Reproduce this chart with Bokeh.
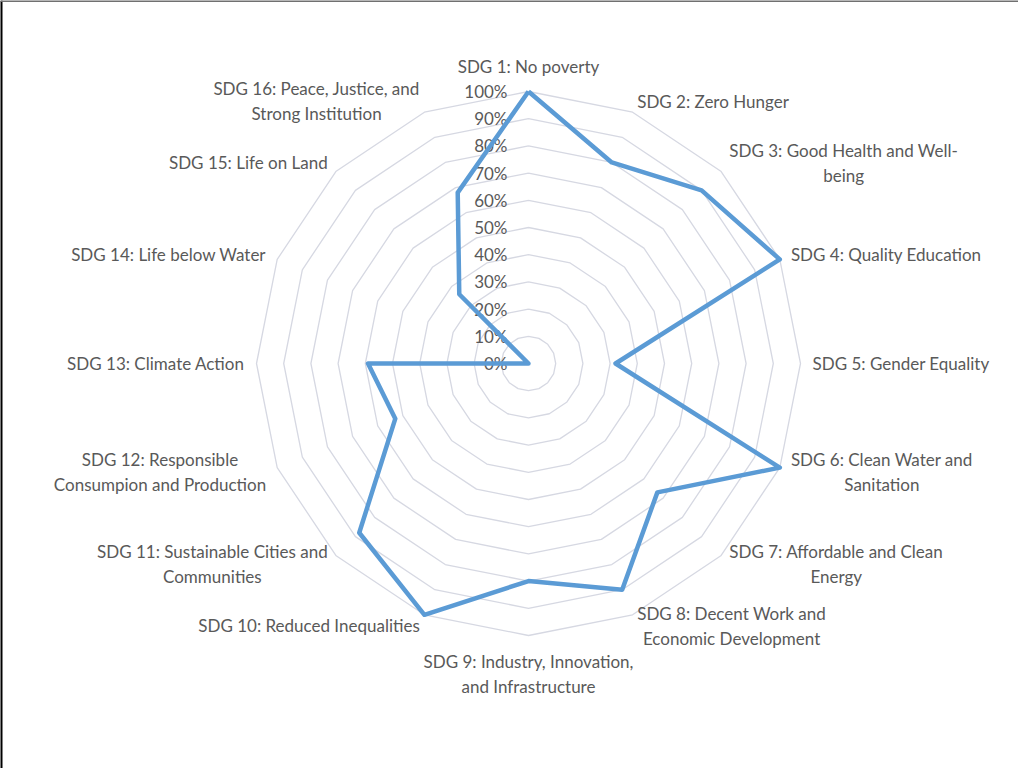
import math
from bokeh.plotting import figure
from bokeh.models import Range1d, Span, ColumnDataSource
from bokeh.core.properties import value
from bokeh.embed import file_html
from bokeh.resources import INLINE

categories = [
    "SDG 1: No poverty",
    "SDG 2: Zero Hunger",
    "SDG 3: Good Health and Well-\nbeing",
    "SDG 4: Quality Education",
    "SDG 5: Gender Equality",
    "SDG 6: Clean Water and\nSanitation",
    "SDG 7: Affordable and Clean\nEnergy",
    "SDG 8: Decent Work and\nEconomic Development",
    "SDG 9: Industry, Innovation,\nand Infrastructure",
    "SDG 10: Reduced Inequalities",
    "SDG 11: Sustainable Cities and\nCommunities",
    "SDG 12: Responsible\nConsumpion and Production",
    "SDG 13: Climate Action",
    "SDG 14: Life below Water",
    "SDG 15: Life on Land",
    "SDG 16: Peace, Justice, and\nStrong Institution",
]
values = [100, 80, 90, 100, 32, 100, 67, 90, 80, 100, 88, 53, 59, 0, 36, 68]
tick_values = [0, 10, 20, 30, 40, 50, 60, 70, 80, 90, 100]
tick_labels = ["0%", "10%", "20%", "30%", "40%", "50%", "60%", "70%", "80%", "90%", "100%"]

PX = 2.72  # pixels per percent unit
W, H = 1018, 768
cx_page, cy_page = 536, 371
x0 = (8 - cx_page) / PX
x1 = (8 + W - cx_page) / PX
y1 = (cy_page - 8) / PX
y0 = (cy_page - 8 - H) / PX

p = figure(width=W, height=H, x_range=Range1d(x0, x1), y_range=Range1d(y0, y1),
           output_backend="svg", toolbar_location=None, min_border=0,
           background_fill_color="white", border_fill_color="white")
p.axis.visible = False
p.grid.visible = False
p.outline_line_color = None

n = len(categories)
angles = [2 * math.pi * i / n for i in range(n)]

# frame lines
p.add_layout(Span(location=x0 + 0.5 / PX, dimension="height", line_color="black", line_width=3))
p.add_layout(Span(location=y1 - 0.5 / PX, dimension="width", line_color="#707070", line_width=2))

# rings
ring_xs, ring_ys = [], []
for t in tick_values[1:]:
    ring_xs.append([t * math.sin(a) for a in angles] + [0])
    ring_ys.append([t * math.cos(a) for a in angles] + [t])
p.multi_line(ring_xs, ring_ys, line_color="#d6d8e2", line_width=1.3)

# tick labels
p.text(x=[-21 / PX] * len(tick_values), y=tick_values, text=tick_labels,
       text_align="right", text_baseline="middle", text_color="#595959",
       text_font=value("Lato"), text_font_size="17px")

# data line
xs = [v * math.sin(a) for v, a in zip(values, angles)]
ys = [v * math.cos(a) for v, a in zip(values, angles)]
p.line(xs + [xs[0]], ys + [ys[0]], line_color="#5b9bd5", line_width=4.5, line_join="round")

# category labels
lx, ly, anchors = [], [], []
for a in angles:
    deg = round(math.degrees(a), 3)
    if deg in (0, 180):
        LR = 287 / PX
    else:
        LR = 284 / PX
    lx.append(LR * math.sin(a))
    ly.append(LR * math.cos(a))
    if deg == 0:
        anchors.append("bottom_center")
    elif deg == 180:
        anchors.append("top_center")
    elif deg < 180:
        anchors.append("center_left")
    else:
        anchors.append("center_right")
src = ColumnDataSource(dict(x=lx, y=ly, text=categories, anchor=anchors))
p.text(x="x", y="y", text="text", anchor="anchor", source=src,
       text_align="center", text_baseline="middle", text_line_height=1.2,
       text_color="#595959", text_font=value("Lato"), text_font_size="17px")

open("out.html", "w").write(file_html(p, INLINE))
